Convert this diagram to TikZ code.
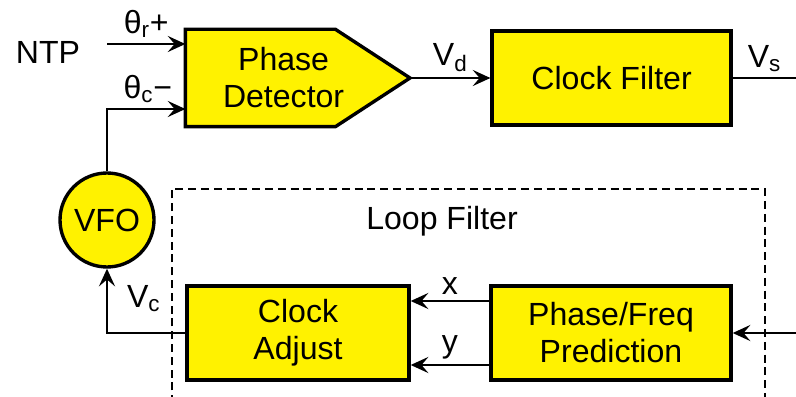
\documentclass[tikz,border=0pt]{standalone}
\usepackage{fontspec}
\setmainfont{Liberation Sans}
\usetikzlibrary{arrows.meta, positioning, calc, backgrounds}

\begin{document}
\begin{tikzpicture}[
    block/.style={rectangle, draw, line width=2.4pt, fill=yellow, align=center, inner sep=0pt, minimum height=2.35cm},
    link/.style={line width=1.9pt, -{Stealth[length=4.4mm, width=4mm, inset=1.7mm]}},
    every node/.style={font=\fontsize{22.8}{26.3}\selectfont}
]
    \useasboundingbox (0,0) rectangle (19.9,9.9);

    % TOP: DETECTOR AND FILTER
    \node (NTP) at (1.2,8.6) {NTP};
    \node (PD) [block, draw=none, fill=none, minimum width=4.825cm] at (7.09,7.95) {Phase\\Detector};
    \coordinate (PDtip) at (10.25,7.95);
    \begin{scope}[on background layer]
        \draw[line width=2.4pt, fill=yellow] (PD.north west) -- ++(3.75,0) -- (PDtip) -- ($(PD.south west)+(3.75,0)$) -- (PD.south west) -- cycle;
    \end{scope}
    \node (CF) [block, minimum width=5.975cm] at (15.29,7.95) {Clock Filter};
    \coordinate (NTPin) at (2.675,8.8);
    \coordinate (Vsout) at (19.9,7.95);
    \draw[link] (NTPin) -- node[above] {θ\textsubscript{r}+} (NTPin -| PD.west);
    \draw[link] (PDtip) -- node[above] {V\textsubscript{d}} (CF.west);
    \draw[line width=1.9pt] (CF.east) -- node[above] {V\textsubscript{s}} (Vsout);

    % BOTTOM: LOOP FILTER
    \node (VFO) [block, circle, minimum size=2.35cm] at (2.675,4.4) {VFO};
    \draw[line width=1.9pt, dash pattern=on 0.2cm off 0.12cm] (4.3,-0.5) rectangle (19.125,5.175);
    \node (LoopLabel) at (11.05,4.375) {Loop Filter};
    \node (CA) [block, minimum width=5.55cm] at (7.45,1.575) {Clock\\Adjust};
    \node (PFP) [block, minimum width=6cm] at (15.275,1.575) {Phase/Freq\\Prediction};
    \coordinate (Vsin) at (19.9,1.575);
    \draw[link] (Vsin) -- (PFP.east);
    \draw[link] ([yshift=0.8cm]PFP.west) -- node[above] {x} ([yshift=0.8cm]CA.east);
    \draw[link] ([yshift=-0.8cm]PFP.west) -- node[above] {y} ([yshift=-0.8cm]CA.east);
    \draw[link] (CA.west) -| node[pos=0.77, right, xshift=0.35cm] {V\textsubscript{c}} (VFO.south);
    \draw[link] (VFO.north) |- node[pos=0.76, above] {θ\textsubscript{c}−} ([yshift=-0.775cm]PD.west);
\end{tikzpicture}
\end{document}
